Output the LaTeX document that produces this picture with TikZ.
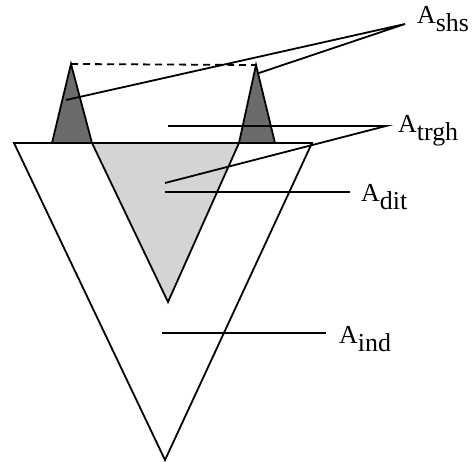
\documentclass[tikz,border=0pt]{standalone}
\usepackage{fontspec}
\setmainfont{Liberation Serif}
\newcommand\lbl[2]{#1\raisebox{-8bp}{\fontsize{26}{26}\selectfont #2}}
\tikzset{
  outline/.style={line width=1.8bp, line join=miter},
  peak/.style={outline, fill=black!58},
  dent/.style={outline, fill=black!17},
  leader/.style={line width=1.8bp},
  lab/.style={anchor=base west, inner sep=0pt, font=\fontsize{26}{26}\selectfont}
}
\begin{document}
\begin{tikzpicture}[x=1bp,y=-1bp]
\useasboundingbox (0,0) rectangle (475,462);
% main points
\coordinate (TL) at (14,143);
\coordinate (TR) at (312,143);
\coordinate (B) at (165,460);
\coordinate (DL) at (92,143);
\coordinate (DR) at (239,143);
\coordinate (DB) at (168,302);
\coordinate (P1L) at (52,143);
\coordinate (P1A) at (71,64);
\coordinate (P2A) at (256,65);
\coordinate (P2R) at (275,143);
% big triangle
\draw[outline, fill=white] (TL) -- (TR) -- (B) -- cycle;
% dent
\draw[dent] (DL) -- (DR) -- (DB) -- cycle;
% peaks
\draw[peak] (P1L) -- (P1A) -- (DL) -- cycle;
\draw[peak] (DR) -- (P2A) -- (P2R) -- cycle;
\draw[outline] (TL) -- (TR);
% dashed
\draw[line width=1.8bp, dash pattern=on 7bp off 5bp] (P1A) -- (P2A);
% labels
\node[lab] (shs) at (417,24) {\lbl{A}{shs}};
\node[lab] (trgh) at (398,133) {\lbl{A}{trgh}};
\node[lab] (dit) at (361,202) {\lbl{A}{dit}};
\node[lab] (ind) at (339,343) {\lbl{A}{ind}};
% leader end points
\coordinate (S0) at (405,24);
\coordinate (S1) at (66,100);
\coordinate (S2) at (259,73);
\coordinate (T0) at (386,126);
\coordinate (T1) at (168,126);
\coordinate (T2) at (165,183);
\coordinate (D0) at (350,192);
\coordinate (D1) at (165,192);
\coordinate (I0) at (326,333);
\coordinate (I1) at (162,333);
\draw[leader] (S1) -- (S0) -- (S2);
\draw[leader] (T1) -- (T0) -- (T2);
\draw[leader] (D0) -- (D1);
\draw[leader] (I0) -- (I1);
\end{tikzpicture}
\end{document}
